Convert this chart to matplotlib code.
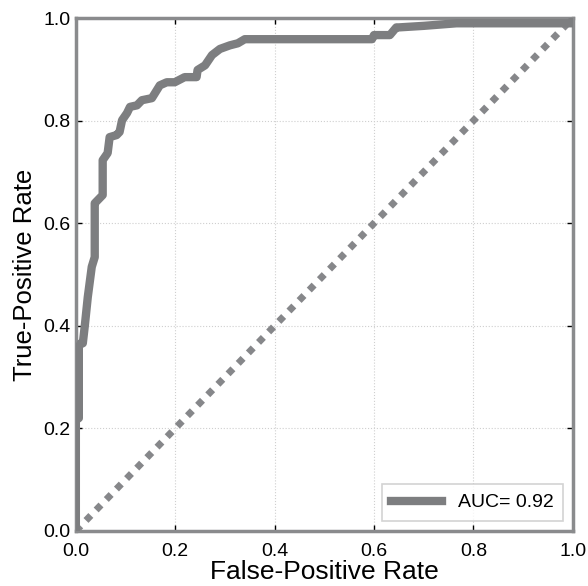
import numpy as np
import matplotlib.pyplot as plt

plt.rcParams['font.family'] = ['Liberation Sans', 'DejaVu Sans']

# ROC curve points (false-positive rate, true-positive rate)
fpr = [0.0, 0.0, 0.006, 0.006, 0.010, 0.014, 0.018, 0.024, 0.032, 0.038, 0.038,
       0.038, 0.044, 0.054, 0.054, 0.054, 0.064, 0.068, 0.082, 0.088, 0.093,
       0.103, 0.109, 0.123, 0.133, 0.153, 0.169, 0.183, 0.199, 0.219, 0.243,
       0.245, 0.260, 0.274, 0.290, 0.310, 0.326, 0.340, 0.596, 0.600, 0.632,
       0.645, 0.650, 0.700, 0.766, 1.0, 1.0]
tpr = [0.0, 0.216, 0.22, 0.359, 0.366, 0.366, 0.400, 0.456, 0.515, 0.534, 0.587,
       0.639, 0.645, 0.655, 0.671, 0.723, 0.737, 0.768, 0.772, 0.778, 0.801,
       0.815, 0.827, 0.830, 0.840, 0.844, 0.869, 0.875, 0.875, 0.885, 0.885,
       0.899, 0.908, 0.928, 0.940, 0.947, 0.951, 0.959, 0.959, 0.967, 0.967,
       0.982, 0.982, 0.985, 0.990, 0.990, 1.0]
auc = 0.92

ticks = [0.0, 0.2, 0.4, 0.6, 0.8, 1.0]
tick_labels = ['0.0', '0.2', '0.4', '0.6', '0.8', '1.0']

fig = plt.figure(figsize=(5.88, 5.86), dpi=100)
ax = fig.add_axes([0.129, 0.094, 0.845, 0.875])

ax.plot(fpr, tpr, color='#7d7e80', lw=6, solid_joinstyle='round',
        label='AUC= %.2f' % auc, zorder=3)
ax.plot([0, 1], [0, 1], color='#86878a', lw=5, linestyle=(0, (1, 1.1)),
        zorder=2)

ax.set_xlim(0, 1)
ax.set_ylim(0, 1)
ax.set_xticks(ticks)
ax.set_yticks(ticks)
ax.set_xticklabels(tick_labels)
ax.set_yticklabels(tick_labels)
ax.tick_params(direction='in', length=4, width=1, color='black',
               labelsize=14, top=True, right=True)
ax.tick_params(axis='x', pad=9)
ax.tick_params(axis='y', pad=4)
ax.grid(True, linestyle=':', color='#cfcfcf', lw=0.8)

for s in ax.spines.values():
    s.set_color('#8a8b8d')
    s.set_linewidth(2.5)

ax.set_xlabel('False-Positive Rate', fontsize=19, labelpad=0)
ax.set_ylabel('True-Positive Rate', fontsize=18.5, labelpad=4)

leg = ax.legend(loc='lower right', fontsize=14, fancybox=False,
                handlelength=2.6, borderpad=0.5, borderaxespad=0.5)
leg.get_frame().set_edgecolor('#c8c8c8')
leg.get_frame().set_linewidth(1.2)

fig.savefig('out.png', dpi=100)
